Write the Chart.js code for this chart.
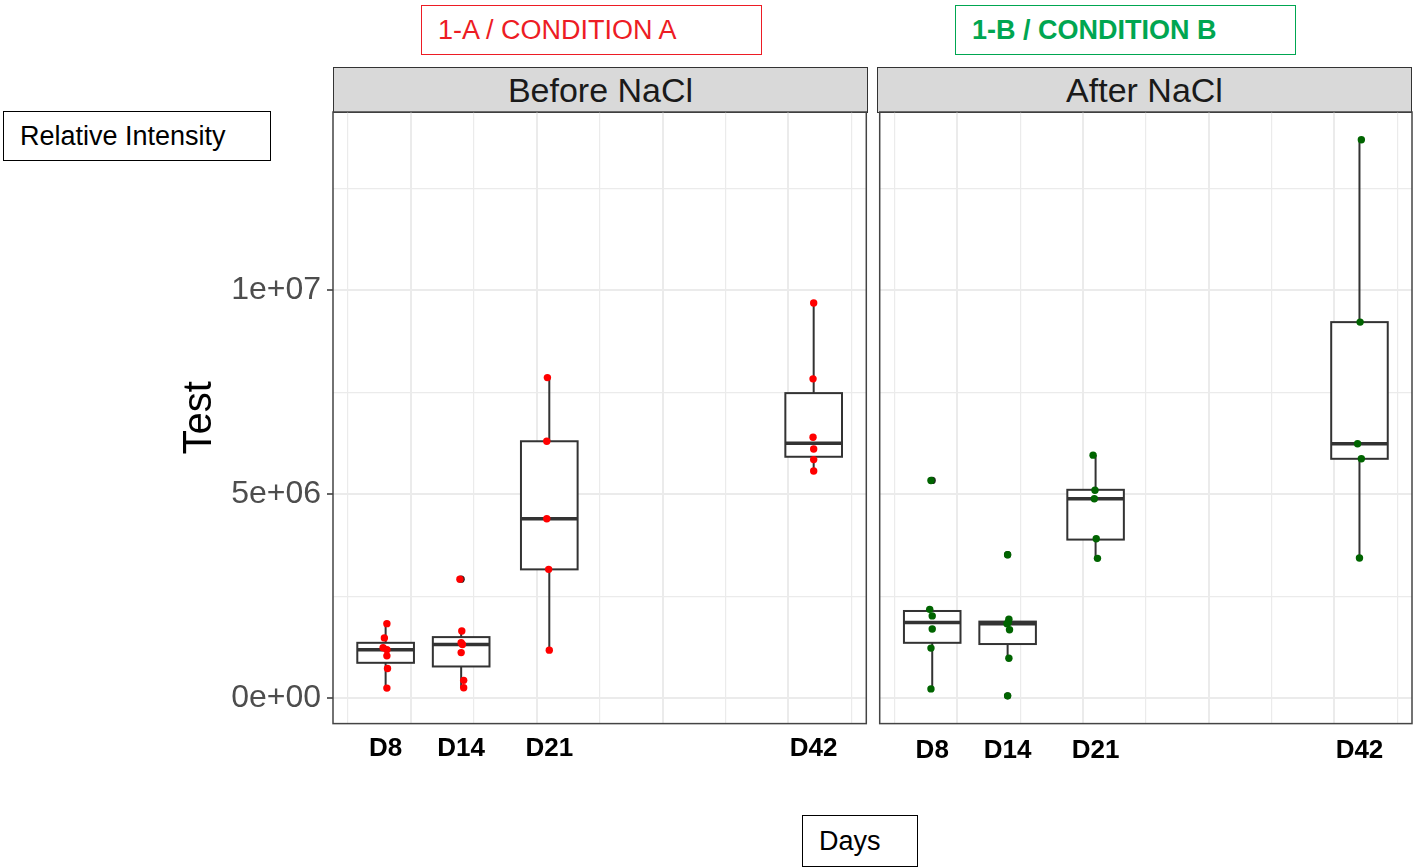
<!DOCTYPE html>
<html>
<head>
<meta charset="utf-8">
<script src="https://cdn.jsdelivr.net/npm/chart.js@4.4.1/dist/chart.umd.min.js"></script>
<style>
  body {
    margin: 0;
    width: 1417px;
    height: 868px;
    background: #fff;
    position: relative;
    overflow: hidden;
    font-family: "Liberation Sans", Arial, sans-serif;
  }
  .note {
    position: absolute;
    box-sizing: border-box;
    border: 1.5px solid #000;
    font-size: 27px;
    display: flex;
    align-items: center;
    padding-left: 16px;
    white-space: nowrap;
  }
  .strip {
    position: absolute;
    box-sizing: border-box;
    top: 67px;
    height: 46px;
    width: 535px;
    background: #d9d9d9;
    border: 1.5px solid #333;
    font-size: 34px;
    color: #1a1a1a;
    display: flex;
    align-items: center;
    justify-content: center;
  }
  canvas { position: absolute; }
</style>
</head>
<body>
<div class="note" style="left:421px;top:5px;width:341px;height:50px;border-color:#ed1c24;color:#ed1c24;">1-A / CONDITION A</div>
<div class="note" style="left:955px;top:5px;width:341px;height:50px;border-color:#00a651;color:#00a651;font-weight:bold;">1-B / CONDITION B</div>
<div class="note" style="left:3px;top:111px;width:268px;height:50px;">Relative Intensity</div>
<div class="note" style="left:802px;top:815px;width:116px;height:52px;">Days</div>
<div class="strip" style="left:333px;">Before NaCl</div>
<div class="strip" style="left:877px;">After NaCl</div>
<canvas id="before" width="710" height="680" style="left:160px;top:100px"></canvas>
<canvas id="after" width="541" height="680" style="left:876px;top:100px"></canvas>
<script>
const days = [8, 14, 21, 42];
const dayLabels = ["D8", "D14", "D21", "D42"];
const xGrid = [5, 10, 15, 20, 25, 30, 35, 40, 45];
const yGrid = [0, 2.5e6, 5e6, 7.5e6, 10e6, 12.5e6];

// Before NaCl (condition A)
const beforeLow = [0.25e6, 0.26e6, 1.18e6, 5.57e6];
const beforeQ1 = [0.87e6, 0.78e6, 3.16e6, 5.92e6];
const beforeMedian = [1.19e6, 1.32e6, 4.40e6, 6.25e6];
const beforeQ3 = [1.36e6, 1.50e6, 6.30e6, 7.48e6];
const beforeHigh = [1.83e6, 1.65e6, 7.86e6, 9.69e6];
const beforePoints = [
  [8.1, 1.83e6], [7.9, 1.48e6], [7.8, 1.24e6], [8.1, 1.19e6], [8.1, 1.04e6], [8.15, 0.73e6], [8.1, 0.25e6],
  [13.9, 2.92e6], [14.05, 1.65e6], [14.0, 1.36e6], [14.1, 1.32e6], [14.0, 1.12e6], [14.2, 0.44e6], [14.2, 0.26e6],
  [20.85, 7.86e6], [20.8, 6.30e6], [20.8, 4.40e6], [20.95, 3.16e6], [21.0, 1.18e6],
  [42.0, 9.69e6], [41.95, 7.83e6], [41.95, 6.40e6], [42.0, 6.11e6], [42.0, 5.85e6], [42.0, 5.57e6],
];

// After NaCl (condition B)
const afterLow = [0.23e6, 0.98e6, 3.43e6, 3.44e6];
const afterQ1 = [1.36e6, 1.33e6, 3.89e6, 5.87e6];
const afterMedian = [1.86e6, 1.83e6, 4.89e6, 6.24e6];
const afterQ3 = [2.14e6, 1.88e6, 5.11e6, 9.22e6];
const afterHigh = [2.18e6, 1.94e6, 5.96e6, 13.69e6];
const afterPoints = [
  [7.9, 5.34e6], [7.8, 2.18e6], [8.0, 2.02e6], [8.0, 1.70e6], [7.9, 1.23e6], [7.9, 0.23e6],
  [14.0, 3.52e6], [14.1, 1.94e6], [14.05, 1.86e6], [13.95, 1.83e6], [14.15, 1.68e6], [14.1, 0.98e6], [14.0, 0.06e6],
  [20.8, 5.96e6], [20.95, 5.10e6], [20.9, 4.89e6], [21.05, 3.91e6], [21.15, 3.43e6],
  [42.15, 13.69e6], [42.05, 9.22e6], [41.85, 6.24e6], [42.15, 5.87e6], [42.0, 3.44e6],
];

const X_MIN = 3.82;
const X_MAX = 46.18;
const Y_MIN = -0.62e6;
const Y_MAX = 14.37e6;
const BOX_HALF = 2.25;
const FONT = '"Liberation Sans", Arial, sans-serif';

function sci(v) {
  const [m, e] = v.toExponential(0).split("e");
  const n = Number(e);
  return m + "e" + (n < 0 ? "-" : "+") + String(Math.abs(n)).padStart(2, "0");
}

const isMajorY = (v) => v % 5e6 === 0;

function boxPlugin(stats, points) {
  return {
    id: "boxes",
    beforeDatasetsDraw(chart) {
      const { ctx } = chart;
      const x = chart.scales.x;
      const y = chart.scales.y;
      const line = (x1, y1, x2, y2) => {
        ctx.beginPath();
        ctx.moveTo(x1, y1);
        ctx.lineTo(x2, y2);
        ctx.stroke();
      };
      ctx.save();
      ctx.strokeStyle = "#333";
      days.forEach((d, i) => {
        const cx = x.getPixelForValue(d);
        const left = x.getPixelForValue(d - BOX_HALF);
        const right = x.getPixelForValue(d + BOX_HALF);
        const top = y.getPixelForValue(stats.q3[i]);
        const bottom = y.getPixelForValue(stats.q1[i]);
        const mid = y.getPixelForValue(stats.median[i]);
        ctx.lineWidth = 2;
        line(cx, y.getPixelForValue(stats.high[i]), cx, top);
        line(cx, bottom, cx, y.getPixelForValue(stats.low[i]));
        ctx.fillStyle = "#fff";
        ctx.fillRect(left, top, right - left, bottom - top);
        ctx.strokeRect(left, top, right - left, bottom - top);
        ctx.lineWidth = 3.5;
        line(left, mid, right, mid);
      });
      // boxplot outliers (black, under the jittered points)
      ctx.fillStyle = "#222";
      points.forEach(([px, py]) => {
        const i = days.findIndex((d) => Math.abs(d - px) < 1);
        if (py > stats.high[i] || py < stats.low[i]) {
          ctx.beginPath();
          ctx.arc(x.getPixelForValue(days[i]), y.getPixelForValue(py), 3.6, 0, Math.PI * 2);
          ctx.fill();
        }
      });
      ctx.restore();
    },
    afterDraw(chart) {
      const { ctx, chartArea: a } = chart;
      ctx.save();
      ctx.strokeStyle = "#444";
      ctx.lineWidth = 1.5;
      ctx.strokeRect(a.left, a.top, a.right - a.left, a.bottom - a.top);
      ctx.restore();
    },
  };
}

function makePanel(id, points, color, stats, showY, yWidth, labelPad, padding) {
  return new Chart(document.getElementById(id), {
    type: "scatter",
    data: {
      datasets: [
        {
          data: points.map(([x, y]) => ({ x, y })),
          pointRadius: 3.7,
          pointHoverRadius: 3.7,
          pointBackgroundColor: color,
          pointBorderWidth: 0,
        },
      ],
    },
    options: {
      responsive: false,
      animation: false,
      events: [],
      layout: { padding },
      plugins: { legend: { display: false }, tooltip: { enabled: false } },
      scales: {
        x: {
          type: "linear",
          min: X_MIN,
          max: X_MAX,
          afterBuildTicks: (s) => {
            s.ticks = xGrid.map((v) => ({ value: v }));
          },
          ticks: { display: false },
          grid: {
            color: "#ebebeb",
            lineWidth: (c) => (c.tick && c.tick.value % 10 === 0 ? 2 : 1.2),
            drawTicks: false,
          },
          border: { display: false },
          afterFit: (s) => {
            s.height = 0;
          },
        },
        x2: {
          type: "linear",
          position: "bottom",
          min: X_MIN,
          max: X_MAX,
          afterBuildTicks: (s) => {
            s.ticks = days.map((v) => ({ value: v }));
          },
          ticks: {
            autoSkip: false,
            maxRotation: 0,
            padding: labelPad,
            color: "#000",
            font: { family: FONT, size: 26, weight: "bold" },
            callback: (v) => dayLabels[days.indexOf(v)],
          },
          grid: { display: false, drawTicks: false },
          border: { display: false },
          afterFit: (s) => {
            s.height = 56.4;
            s.paddingLeft = 0;
            s.paddingRight = 0;
          },
        },
        y: {
          type: "linear",
          min: Y_MIN,
          max: Y_MAX,
          afterBuildTicks: (s) => {
            s.ticks = yGrid.map((v) => ({ value: v }));
          },
          ticks: {
            display: showY,
            autoSkip: false,
            padding: 6,
            color: "#4d4d4d",
            font: { family: FONT, size: 32 },
            callback: (v) => (isMajorY(v) ? sci(v) : ""),
          },
          grid: {
            color: "#ebebeb",
            lineWidth: (c) => (c.tick && isMajorY(c.tick.value) ? 2 : 1.2),
            drawTicks: showY,
            tickLength: 6,
            tickWidth: 1.5,
            tickColor: (c) => (c.tick && isMajorY(c.tick.value) ? "#333" : "rgba(0,0,0,0)"),
          },
          border: { display: false },
          title: {
            display: showY,
            text: "Test",
            color: "#000",
            font: { family: FONT, size: 40 },
            padding: 16,
          },
          afterFit: (s) => {
            s.width = yWidth;
            s.paddingTop = 0;
            s.paddingBottom = 0;
          },
        },
      },
    },
    plugins: [boxPlugin(stats, points)],
  });
}

makePanel(
  "before",
  beforePoints,
  "#ff0000",
  { low: beforeLow, q1: beforeQ1, median: beforeMedian, q3: beforeQ3, high: beforeHigh },
  true,
  173,
  10,
  { left: 0, top: 12, right: 2, bottom: 0 }
);

makePanel(
  "after",
  afterPoints,
  "#006400",
  { low: afterLow, q1: afterQ1, median: afterMedian, q3: afterQ3, high: afterHigh },
  false,
  0,
  12,
  { left: 1, top: 12, right: 5, bottom: 0 }
);
</script>
</body>
</html>
